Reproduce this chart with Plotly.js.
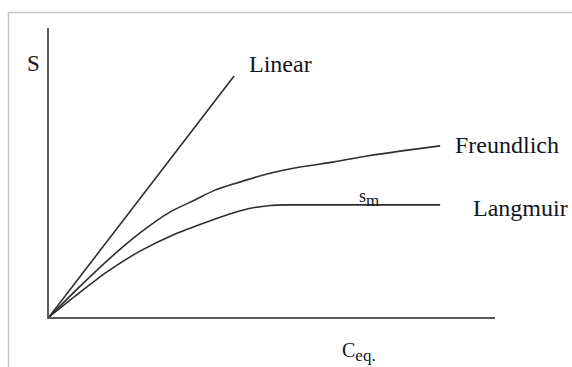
<!DOCTYPE html>
<html>
<head>
<meta charset="utf-8">
<script src="https://cdn.plot.ly/plotly-3.0.1.min.js"></script>
<style>
  html, body { margin: 0; padding: 0; background: #fff; }
  #chart { width: 572px; height: 367px; }
</style>
</head>
<body>
<div id="chart"></div>
<script>
// Adsorption isotherm sketch: sorbed amount S against equilibrium concentration C_eq.
const linearC = [0, 4.15];
const linearS = [0, 8.34];

const freundlichC = [0, 0.70, 1.37, 2.04, 2.71, 3.27, 3.72, 4.13, 4.89, 5.63, 6.37, 7.13, 7.87, 8.77];
const freundlichS = [0, 1.07, 2.04, 2.91, 3.63, 4.05, 4.39, 4.60, 4.95, 5.19, 5.36, 5.57, 5.74, 5.92];

const langmuirC = [0, 0.65, 1.30, 2.04, 2.78, 3.54, 4.13, 4.55, 4.96, 5.40, 8.77];
const langmuirS = [0, 0.80, 1.56, 2.28, 2.84, 3.29, 3.60, 3.77, 3.86, 3.88, 3.88];

const curveNames = ["Linear", "Freundlich", "Langmuir"];

// Plot area geometry (pixels) used to place free text and the outer frame.
const W = 572, H = 367;
const M = { l: 49, r: 77, t: 28, b: 50 };
const plotW = W - M.l - M.r, plotH = H - M.t - M.b;
const px2x = px => (px - M.l) / plotW;
const py2y = py => (H - M.b - py) / plotH;

const lineStyle = { color: "#2e2e2e", width: 1.6, shape: "spline", smoothing: 0.7 };

const traces = [
  { x: linearC, y: linearS, name: curveNames[0], mode: "lines", line: Object.assign({}, lineStyle, { shape: "linear" }) },
  { x: freundlichC, y: freundlichS, name: curveNames[1], mode: "lines", line: lineStyle },
  { x: langmuirC, y: langmuirS, name: curveNames[2], mode: "lines", line: lineStyle }
];

const serif = "Liberation Serif";
const txt = (text, pxL, pyMid, size) => ({
  text: text, xref: "paper", yref: "paper",
  x: px2x(pxL), y: py2y(pyMid), xanchor: "left", yanchor: "middle",
  showarrow: false, font: { family: serif, size: size, color: "#141420" }
});

const layout = {
  width: W, height: H,
  margin: M,
  font: { family: serif },
  paper_bgcolor: "#fff", plot_bgcolor: "#fff",
  showlegend: false,
  xaxis: {
    range: [0, 10], showline: true, linecolor: "#5a5a5a", linewidth: 2,
    showgrid: false, zeroline: false, showticklabels: false, ticks: ""
  },
  yaxis: {
    range: [0, 10], showline: true, linecolor: "#5a5a5a", linewidth: 2,
    showgrid: false, zeroline: false, showticklabels: false, ticks: ""
  },
  annotations: [
    txt("S", 24.5, 63.5, 23),
    txt(curveNames[0], 246.5, 63.5, 24),
    txt(curveNames[1], 452.5, 144.5, 24),
    txt(curveNames[2], 470.5, 207.5, 24),
    txt("s<sub><span style=\"font-size:17px\">m</span></sub>", 357, 198, 18),
    txt("C<sub><span style=\"font-size:17px\">eq.</span></sub>", 339.5, 352, 20)
  ],
  shapes: [
    { type: "line", xref: "paper", yref: "paper",
      x0: px2x(8), x1: px2x(W + 5), y0: py2y(12.5), y1: py2y(12.5),
      line: { color: "#c4c4c4", width: 1.5 } },
    { type: "line", xref: "paper", yref: "paper",
      x0: px2x(8.5), x1: px2x(8.5), y0: py2y(12.5), y1: py2y(H + 5),
      line: { color: "#c4c4c4", width: 1.5 } }
  ]
};

Plotly.newPlot("chart", traces, layout, { staticPlot: true, displayModeBar: false });
</script>
</body>
</html>
